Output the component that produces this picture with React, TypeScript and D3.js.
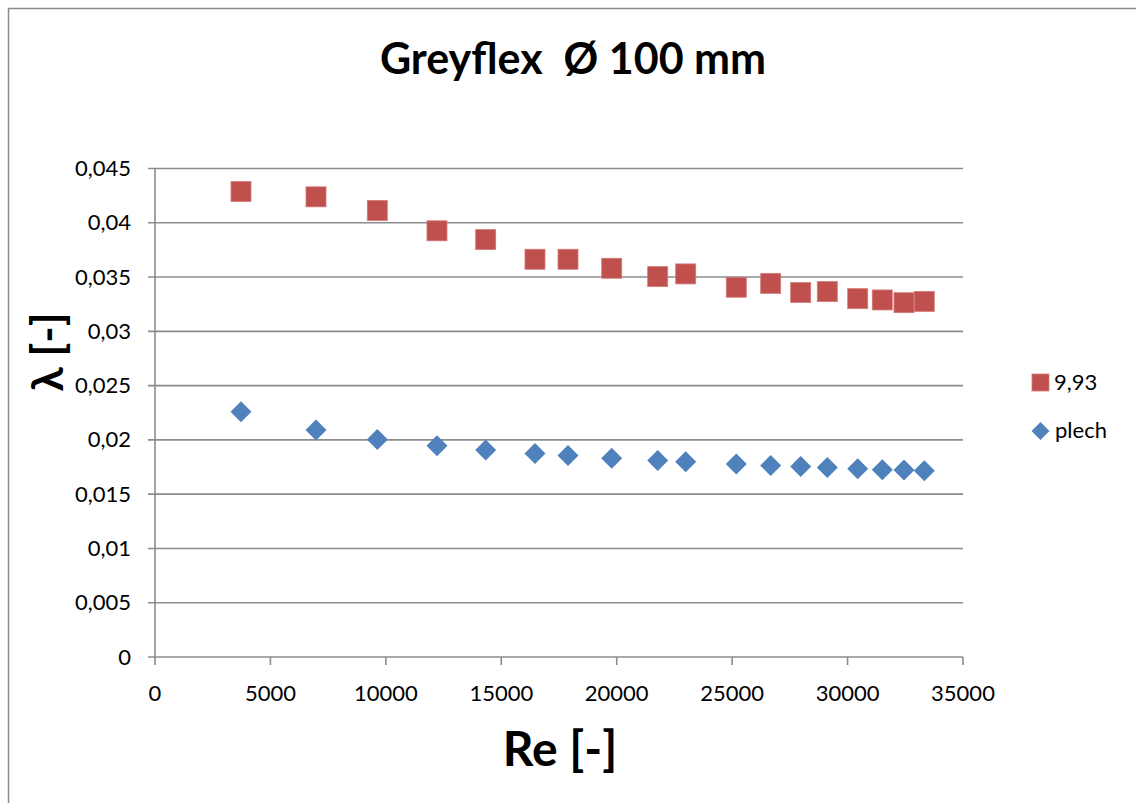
import React from "react";
import * as d3 from "d3";

const reValues = [3725, 6974, 9629, 12215, 14325, 16460, 17890, 19783, 21775, 22988, 25180, 26670, 27970, 29122, 30439, 31504, 32444, 33323];
const series993 = [0.04288, 0.04239, 0.04113, 0.03926, 0.03845, 0.03664, 0.03664, 0.03581, 0.03504, 0.03529, 0.03406, 0.03442, 0.03357, 0.03366, 0.03301, 0.03289, 0.03264, 0.03276];
const seriesPlech = [0.02259, 0.02091, 0.02004, 0.01946, 0.01906, 0.01875, 0.01856, 0.01832, 0.0181, 0.01798, 0.01777, 0.01764, 0.01755, 0.01746, 0.01734, 0.01724, 0.01722, 0.01715];
const xTicks = [0, 5000, 10000, 15000, 20000, 25000, 30000, 35000];
const yTicks = [0, 0.005, 0.01, 0.015, 0.02, 0.025, 0.03, 0.035, 0.04, 0.045];
const seriesNames = ["9,93", "plech"];

const FONT = "Lato, 'Open Sans', sans-serif";
const RED = "#C0504D";
const BLUE = "#4F81BD";
const GRID = "#8c8c8c";

const fmtY = (v: number) => (v === 0 ? "0" : String(+v.toFixed(3)).replace(".", ","));

export default function App() {
  const x = d3.scaleLinear().domain([0, 35000]).range([155, 963]);
  const y = d3.scaleLinear().domain([0, 0.045]).range([657, 168.5]);
  const diamond = (cx: number, cy: number, r: number) =>
    `M${cx},${cy - r}L${cx + r},${cy}L${cx},${cy + r}L${cx - r},${cy}Z`;

  return (
    <svg
      width={1136}
      height={803}
      style={{ position: "absolute", left: 0, top: 0, background: "#fff" }}
      fontFamily={FONT}
    >
      <rect x={0} y={0} width={1136} height={803} fill="#fff" />
      <path d="M8.5,820V8.5H1140" fill="none" stroke="#8a8a8a" strokeWidth={1.5} />
      <text
        x={573}
        y={74}
        textAnchor="middle"
        fontSize={43}
        fontWeight={700}
        fill="#000"
        style={{ whiteSpace: "pre" }}
      >
        {"Greyflex  Ø 100 mm"}
      </text>
      {yTicks.map((t) => (
        <g key={"y" + t}>
          <line x1={148} x2={963} y1={y(t)} y2={y(t)} stroke={GRID} strokeWidth={1.6} />
          <text x={131} y={y(t) + 7.5} textAnchor="end" fontSize={22} fill="#000">
            {fmtY(t)}
          </text>
        </g>
      ))}
      <line x1={155} x2={155} y1={168.5} y2={657} stroke={GRID} strokeWidth={1.6} />
      {xTicks.map((t) => (
        <g key={"x" + t}>
          <line x1={x(t)} x2={x(t)} y1={657} y2={665} stroke={GRID} strokeWidth={1.6} />
          <text x={x(t)} y={701} textAnchor="middle" fontSize={22} fill="#000">
            {t}
          </text>
        </g>
      ))}
      <text
        transform="translate(63,352) rotate(-90)"
        textAnchor="middle"
        fontSize={44}
        fontWeight={700}
        fill="#000"
      >
        λ [-]
      </text>
      <text x={560} y={766} textAnchor="middle" fontSize={48} fontWeight={700} fill="#000">
        Re [-]
      </text>
      {reValues.map((r, i) => (
        <rect
          key={"r" + i}
          x={x(r) - 10}
          y={y(series993[i]) - 10}
          width={20}
          height={20}
          fill={RED}
          stroke="#d27a78"
          strokeWidth={0.8}
        />
      ))}
      {reValues.map((r, i) => (
        <path key={"b" + i} d={diamond(x(r), y(seriesPlech[i]), 10.5)} fill={BLUE} />
      ))}
      <rect x={1032} y={374} width={17} height={17} fill={RED} stroke="#d27a78" strokeWidth={0.8} />
      <text x={1054} y={390} fontSize={22} fill="#000">
        {seriesNames[0]}
      </text>
      <path d={diamond(1040.5, 431, 9)} fill={BLUE} />
      <text x={1055} y={438} fontSize={22} fill="#000">
        {seriesNames[1]}
      </text>
    </svg>
  );
}
